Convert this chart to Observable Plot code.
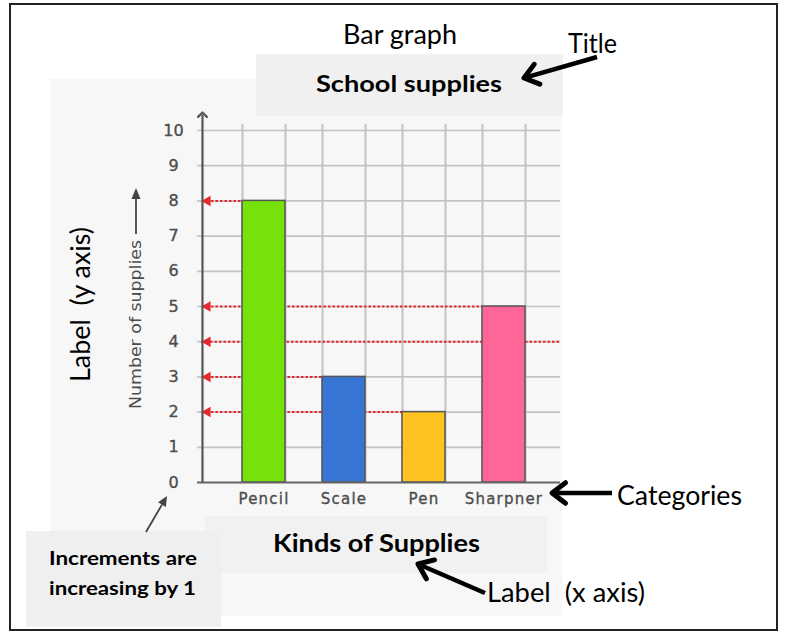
<!DOCTYPE html>
<html><head><meta charset="utf-8">
<script src="https://cdn.jsdelivr.net/npm/d3@7"></script>
<script src="https://cdn.jsdelivr.net/npm/@observablehq/plot@0.6"></script>
<style>
html,body{margin:0;padding:0;background:#fff;}
#page{position:relative;width:789px;height:637px;overflow:hidden;}
.box{position:absolute;}
#chart{position:absolute;left:120px;top:100px;}
#chart svg{overflow:visible;}
#chart g[aria-label="x-axis tick label"] text{letter-spacing:1.2px;stroke:#4d4d4d;stroke-width:0.35px;}
#chart g[aria-label="y-axis tick label"] text{stroke:#4d4d4d;stroke-width:0.35px;}
#overlay{position:absolute;left:0;top:0;pointer-events:none;}
</style></head><body>
<div id="page">
  <div class="box" style="left:9px;top:3px;width:769px;height:628px;border:2px solid #222;box-sizing:border-box"></div>
  <div class="box" style="left:50px;top:79px;width:512px;height:537px;background:#f7f7f7"></div>
  <div class="box" style="left:256px;top:54px;width:307px;height:62px;background:#f0f0f0"></div>
  <div class="box" style="left:205px;top:516px;width:342px;height:57px;background:#f1f1f1"></div>
  <div class="box" style="left:26px;top:531px;width:195px;height:96px;background:#efefef"></div>
  <div id="chart"></div>
</div>
<script>
// ---- data ----
const categories = ["Pencil", "Scale", "Pen", "Sharpner"];
const counts = [8, 3, 2, 5];
const barColors = ["#76e20a", "#3876d6", "#fec320", "#ff6698"];
const yTicks = [0, 1, 2, 3, 4, 5, 6, 7, 8, 9, 10];
const guideValues = [8, 5, 4, 3, 2];
const guideTargets = ["Pencil", "Sharpner", null, "Scale", "Pen"];

const bars = categories.map((c, i) => ({category: c, count: counts[i], color: barColors[i]}));
const guides = guideValues.map((v, i) => ({value: v, target: guideTargets[i], from: categories[0]}));

// ---- layout ----
const W = 460, H = 420, ML = 81, MT = 30, MR = 20, MB = 38;
const PI = 0.466, PO = 0.463, AL = 0.537;
const band = d3.scaleBand().domain(categories).range([ML, W - MR]).paddingInner(PI).paddingOuter(PO).align(AL);
const bw = band.bandwidth();
const firstStart = band(categories[0]);
const axisDx = ML - (firstStart + bw / 2);
const gridTop = 10.17, axisTop = 10.45;
const red = "#e8262d", grid = "#c3c3c3";

const plot = Plot.plot({
  width: W, height: H, marginLeft: ML, marginTop: MT, marginRight: MR, marginBottom: MB,
  style: {background: "transparent", fontFamily: "DejaVu Sans", color: "#4d4d4d", overflow: "visible"},
  x: {type: "band", domain: categories, paddingInner: PI, paddingOuter: PO, align: AL, label: null},
  y: {domain: [0, 10], label: null},
  color: {type: "identity"},
  marks: [
    Plot.ruleY(yTicks.filter(d => d > 0), {y: d => d, stroke: grid, strokeWidth: 1.7, insetLeft: -4}),
    Plot.ruleX(categories, {x: d => d, y1: () => 0, y2: () => gridTop, dx: -bw / 2, stroke: grid, strokeWidth: 2}),
    Plot.ruleX(categories, {x: d => d, y1: () => 0, y2: () => gridTop, dx: bw / 2, stroke: grid, strokeWidth: 2}),
    Plot.ruleY(guides.filter(d => d.target), {y: "value", x1: "from", x2: "target", insetLeft: ML - firstStart, insetRight: bw, stroke: red, strokeWidth: 2, strokeDasharray: "2.5,2"}),
    Plot.ruleY(guides.filter(d => !d.target), {y: "value", stroke: red, strokeWidth: 2, strokeDasharray: "2.5,2"}),
    Plot.barY(bars, {x: "category", y: "count", fill: "color", stroke: "#555", strokeWidth: 1.5}),
    Plot.dot(guides, {y: "value", frameAnchor: "left", symbol: "triangle", r: 3.9, rotate: -90, fill: red, stroke: null, dx: 6}),
    Plot.ruleY([0], {y: d => d, stroke: "#666", strokeWidth: 2, insetLeft: -4}),
    Plot.link([categories[0]], {x1: d => d, x2: d => d, y1: () => 0, y2: () => axisTop, dx: axisDx, stroke: "#555", strokeWidth: 2.2, markerEnd: "arrow"}),
    Plot.axisY(yTicks, {tickSize: 0, tickPadding: 28, textAnchor: "middle", fontSize: 16, label: null}),
    Plot.axisX({tickSize: 0, tickPadding: 11, fontSize: 15, label: null})
  ]
});
document.getElementById("chart").appendChild(plot);

// ---- annotations ----
const svg = d3.select("#page").append("svg").attr("id", "overlay").attr("width", 789).attr("height", 637);

function label(str, cx, baseline, len, size, opts = {}) {
  return svg.append("text")
    .attr("transform", `translate(${cx},${baseline})` + (opts.rotate ? ` rotate(${opts.rotate})` : ""))
    .attr("text-anchor", "middle")
    .attr("font-family", opts.family || "Lato")
    .attr("font-weight", opts.weight || "normal")
    .attr("font-size", size)
    .attr("fill", opts.fill || "#000")
    .attr("textLength", len)
    .attr("lengthAdjust", "spacingAndGlyphs")
    .style("white-space", "pre")
    .text(str);
}
label("Bar graph", 400, 44, 114, 26);
label("Title", 592.5, 53, 49, 26);
label("School supplies", 409, 92, 186, 23, {weight: "bold"});
label("Categories", 679.5, 505, 125, 26);
label("Label  (x axis)", 566, 602, 158, 26);
label("Kinds of Supplies", 376.5, 552, 207, 24, {weight: "bold"});
label("Increments are", 123, 565, 148, 19, {weight: "bold"});
label("increasing by 1", 122.5, 595, 147, 19, {weight: "bold"});
label("Label  (y axis)", 90, 304.5, 155, 26, {rotate: -90});
label("Number of supplies", 141, 324.5, 169, 16, {rotate: -90, family: "DejaVu Sans", fill: "#4d4d4d"});

function thickArrow(x1, y1, x2, y2) {
  const a = Math.atan2(y2 - y1, x2 - x1), L = 17, s = 0.65;
  svg.append("line").attr("x1", x1).attr("y1", y1).attr("x2", x2 - 3 * Math.cos(a)).attr("y2", y2 - 3 * Math.sin(a))
    .attr("stroke", "#000").attr("stroke-width", 4.5).attr("stroke-linecap", "butt");
  const p1 = [x2 - L * Math.cos(a - s), y2 - L * Math.sin(a - s)];
  const p2 = [x2 - L * Math.cos(a + s), y2 - L * Math.sin(a + s)];
  svg.append("path").attr("d", `M${p1}L${x2},${y2}L${p2}`).attr("fill", "none")
    .attr("stroke", "#000").attr("stroke-width", 5).attr("stroke-linejoin", "round").attr("stroke-linecap", "round");
}
thickArrow(597, 57, 524, 78);
thickArrow(612, 493, 552, 493);
thickArrow(485, 593, 418, 564);

function thinArrow(x1, y1, x2, y2, color, len, half) {
  const a = Math.atan2(y2 - y1, x2 - x1);
  const bx = x2 - len * Math.cos(a), by = y2 - len * Math.sin(a);
  svg.append("line").attr("x1", x1).attr("y1", y1).attr("x2", bx).attr("y2", by)
    .attr("stroke", color).attr("stroke-width", 1.8);
  const nx = -Math.sin(a) * half, ny = Math.cos(a) * half;
  svg.append("path").attr("d", `M${x2},${y2}L${bx + nx},${by + ny}L${bx - nx},${by - ny}Z`).attr("fill", color);
}
thinArrow(146, 532, 167, 496, "#444", 10, 4.5);
thinArrow(136, 234, 136, 188, "#444", 11, 4.5);
</script>
</body></html>
